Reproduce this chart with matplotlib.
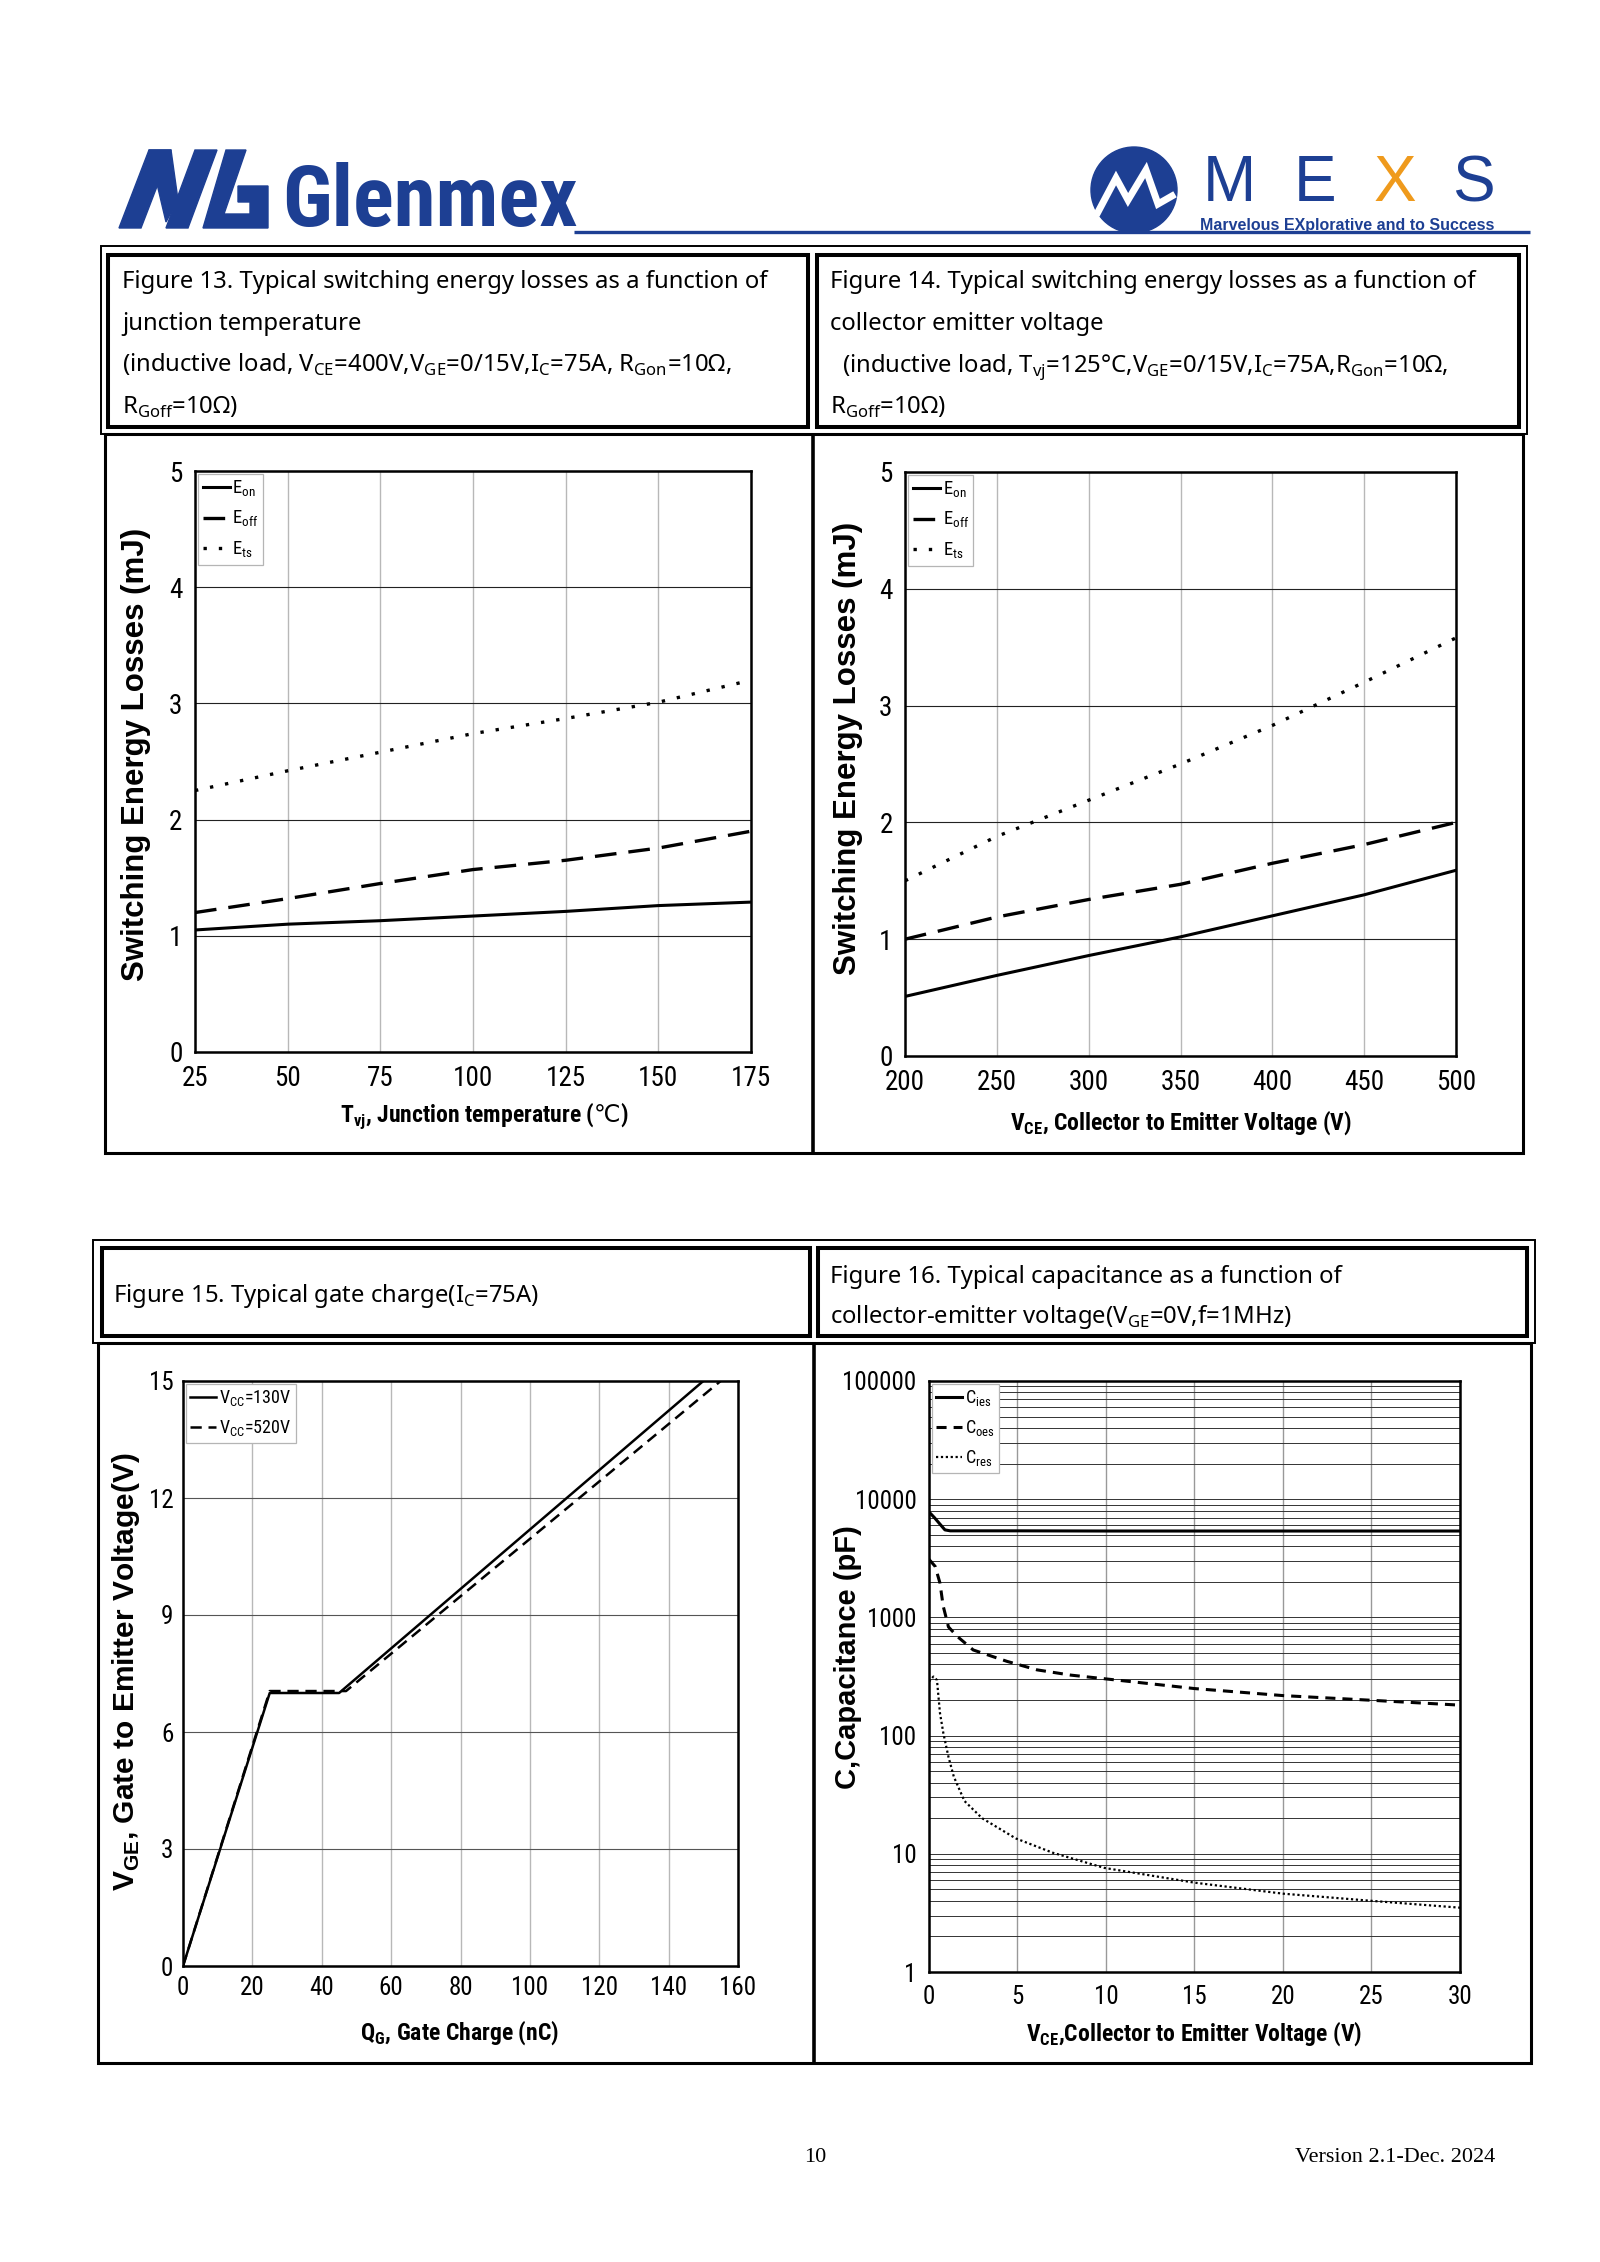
import matplotlib
matplotlib.use('Agg')
import matplotlib.pyplot as plt
from matplotlib import font_manager
from matplotlib.patches import Rectangle, Polygon, Circle
from matplotlib.ticker import FixedLocator, NullFormatter

# ---------------- data ----------------
t_vj = [25, 50, 75, 100, 125, 150, 175]
eon_t = [1.05, 1.10, 1.13, 1.17, 1.21, 1.26, 1.29]
eoff_t = [1.20, 1.32, 1.45, 1.57, 1.65, 1.755, 1.90]
ets_t = [2.25, 2.42, 2.58, 2.74, 2.87, 3.01, 3.20]

vce_e = [200, 250, 300, 350, 400, 450, 500]
eon_v = [0.51, 0.69, 0.86, 1.02, 1.20, 1.38, 1.59]
eoff_v = [1.00, 1.19, 1.34, 1.47, 1.65, 1.81, 2.00]
ets_v = [1.50, 1.88, 2.19, 2.50, 2.83, 3.20, 3.58]

qg_130 = [0, 25, 45, 150]
vge_130 = [0, 7.0, 7.0, 15]
qg_520 = [0, 25, 47, 155]
vge_520 = [0, 7.05, 7.05, 15]

cies_vce = [0, 0.3, 0.6, 0.9, 1.2, 5, 10, 20, 30]
cies = [7800, 7000, 6200, 5500, 5400, 5400, 5380, 5380, 5380]
coes_vce = [0, 0.35, 0.62, 0.8, 1.1, 1.6, 2.5, 4.4, 6.1, 8, 10.6, 15, 20, 25, 30]
coes = [3100, 2700, 1950, 1250, 830, 690, 530, 425, 360, 325, 295, 250, 218, 199, 181]
cres_vce = [0, 0.25, 0.45, 0.62, 0.81, 1.1, 1.4, 2.0, 3.0, 4.9, 7, 9.9, 15, 20, 25, 30]
cres = [286, 316, 295, 155, 105, 66, 45, 28, 20, 13.5, 10.2, 7.6, 5.7, 4.6, 4.0, 3.5]

t_ticks = [25, 50, 75, 100, 125, 150, 175]
e_ticks = [0, 1, 2, 3, 4, 5]
v_ticks = [200, 250, 300, 350, 400, 450, 500]
q_ticks = [0, 20, 40, 60, 80, 100, 120, 140, 160]
g_ticks = [0, 3, 6, 9, 12, 15]
c_xticks = [0, 5, 10, 15, 20, 25, 30]
c_yticks = [1, 10, 100, 1000, 10000, 100000]
c_ylabels = ['1', '10', '100', '1000', '10000', '100000']

# ---------------- fonts ----------------
names = {f.name for f in font_manager.fontManager.ttflist}
NARROW = 'Liberation Sans'
for cand in ('Liberation Sans Narrow', 'Roboto Condensed', 'Archivo Narrow',
             'Open Sans Condensed', 'Noto Sans Condensed'):
    if cand in names:
        NARROW = cand
        break

plt.rcParams['font.family'] = [NARROW, 'DejaVu Sans']
HEAD = ['Noto Sans', 'DejaVu Sans']
LAB = ['Liberation Sans', 'DejaVu Sans']
NAVY = '#1d3f93'

W, H = 1600, 2262
fig = plt.figure(figsize=(16, 22.62), dpi=100)

ov = fig.add_axes([0, 0, 1, 1])
ov.set_xlim(0, W)
ov.set_ylim(H, 0)
ov.axis('off')


def ax_px(l, t, r, b):
    return fig.add_axes([l / W, 1 - b / H, (r - l) / W, (b - t) / H])


def rect(x0, y0, x1, y1, lw):
    ov.add_patch(Rectangle((x0, y0), x1 - x0, y1 - y0, fill=False,
                           edgecolor='black', lw=lw))


def vline(x, y0, y1, lw):
    ov.plot([x, x], [y0, y1], color='black', lw=lw, solid_capstyle='butt')


# ---------------- header / logos ----------------
ov.text(282, 226, 'Glenmex', fontsize=61, fontweight='bold', color=NAVY,
        family=[NARROW, 'DejaVu Sans'], va='baseline', ha='left')
for poly in ([(119, 228), (141, 228), (171, 150), (149, 150)],
             [(149, 150), (171, 150), (178, 200), (166, 222)],
             [(166, 228), (188, 228), (217, 150), (195, 150)],
             [(203, 228), (268, 228), (268, 186), (238, 186), (238, 202),
              (250, 202), (250, 214), (224, 214), (246, 150), (226, 150)]):
    ov.add_patch(Polygon(poly, closed=True, color=NAVY))
ov.plot([574, 1530], [232, 232], color=NAVY, lw=2.4, solid_capstyle='butt')
ov.add_patch(Circle((1134, 190), 43, color=NAVY))
ov.plot([1098, 1116, 1128, 1146, 1158, 1172], [212, 178, 200, 170, 204, 196],
        color='white', lw=5, solid_joinstyle='miter')
for ch, x, c in (('M', 1203, NAVY), ('E', 1294, NAVY), ('X', 1374, '#ef9a1c'),
                 ('S', 1452, NAVY)):
    ov.text(x, 201, ch, fontsize=46, color=c, family=LAB, va='baseline', ha='left')
ov.text(1200, 230, 'Marvelous EXplorative and to Success', fontsize=11.5,
        fontweight='bold', color=NAVY, family=LAB, va='baseline', ha='left')

# ---------------- tables ----------------
rect(101, 246, 1527, 434, 1.4)
rect(108, 255, 808, 427, 2.9)
rect(817, 255, 1519, 427, 2.9)
rect(105, 434, 1523, 1153, 2.2)
vline(813, 434, 1153, 2.6)
rect(93, 1240, 1535, 1343, 1.4)
rect(102, 1248, 810, 1336, 2.9)
rect(818, 1248, 1527, 1336, 2.9)
rect(98, 1343, 1531, 2063, 2.2)
vline(814, 1343, 2063, 2.6)

HFS = 17.2
s = r'$_\mathdefault{%s}$'
h13 = ['Figure 13. Typical switching energy losses as a function of',
       'junction temperature',
       '(inductive load, V' + s % 'CE' + '=400V,V' + s % 'GE' + '=0/15V,I' + s % 'C'
       + '=75A, R' + s % 'Gon' + '=10Ω,',
       'R' + s % 'Goff' + '=10Ω)']
h14 = ['Figure 14. Typical switching energy losses as a function of',
       'collector emitter voltage',
       '(inductive load, T' + s % 'vj' + '=125°C,V' + s % 'GE' + '=0/15V,I' + s % 'C'
       + '=75A,R' + s % 'Gon' + '=10Ω,',
       'R' + s % 'Goff' + '=10Ω)']
ys = [288, 330, 372, 414]
for i, (a, b) in enumerate(zip(h13, h14)):
    ov.text(122, ys[i], a, fontsize=HFS, family=HEAD, va='baseline', ha='left')
    ov.text(830 if i != 2 else 842, ys[i], b, fontsize=HFS, family=HEAD,
            va='baseline', ha='left')
ov.text(113, 1302, 'Figure 15. Typical gate charge(I' + s % 'C' + '=75A)',
        fontsize=HFS, family=HEAD, va='baseline', ha='left')
ov.text(830, 1283, 'Figure 16. Typical capacitance as a function of',
        fontsize=HFS, family=HEAD, va='baseline', ha='left')
ov.text(830, 1323, 'collector-emitter voltage(V' + s % 'GE' + '=0V,f=1MHz)',
        fontsize=HFS, family=HEAD, va='baseline', ha='left')

ov.text(815, 2162, '10', fontsize=16, family=['Liberation Serif'], ha='center',
        va='baseline')
ov.text(1495, 2162, 'Version 2.1-Dec. 2024', fontsize=16, family=['Liberation Serif'],
        ha='right', va='baseline')


# ---------------- plot helpers ----------------
def style(ax, tsize, pad=9):
    for sp in ax.spines.values():
        sp.set_linewidth(1.8)
    ax.tick_params(which='both', length=0, labelsize=tsize, pad=pad)
    ax.set_axisbelow(True)


def legend(ax, fs=13.5, **kw):
    lg = ax.legend(loc='upper left', fontsize=fs, frameon=True, fancybox=False,
                   framealpha=1, edgecolor='#b5b5b5', borderaxespad=0.15,
                   handlelength=1.45, handletextpad=0.15, borderpad=0.25,
                   labelspacing=0.55, **kw)
    lg.get_frame().set_linewidth(0.9)
    return lg


LFS = 19.5
XFS = 17
deg = r'$\mathrm{℃}$'
# Figure 13
ax1 = ax_px(195, 471, 751, 1052)
ax1.plot(t_vj, eon_t, color='k', lw=2.2, label='E' + s % 'on')
ax1.plot(t_vj, eoff_t, color='k', lw=2.4, ls=(0, (6.5, 3.6)), label='E' + s % 'off')
ax1.plot(t_vj, ets_t, color='k', lw=2.4, ls=(0, (1, 3.6)), label='E' + s % 'ts')
ax1.set_xlim(25, 175)
ax1.set_ylim(0, 5)
ax1.set_xticks(t_ticks)
ax1.set_yticks(e_ticks)
ax1.yaxis.grid(True, color='#222222', lw=0.8)
ax1.xaxis.grid(True, color='#b8b8b8', lw=1.0)
style(ax1, LFS)
legend(ax1)
ov.text(484, 1122, 'T' + s % 'vj' + ', Junction temperature (' + deg + ')',
        fontsize=XFS, fontweight='bold', ha='center', va='baseline')
ov.text(136, 754, 'Switching Energy Losses (mJ)', fontsize=22.5, fontweight='bold',
        family=LAB, rotation=90, ha='center', va='center')

# Figure 14
ax2 = ax_px(905, 472, 1456, 1056)
ax2.plot(vce_e, eon_v, color='k', lw=2.2, label='E' + s % 'on')
ax2.plot(vce_e, eoff_v, color='k', lw=2.4, ls=(0, (6.5, 3.6)), label='E' + s % 'off')
ax2.plot(vce_e, ets_v, color='k', lw=2.4, ls=(0, (1, 3.6)), label='E' + s % 'ts')
ax2.set_xlim(200, 500)
ax2.set_ylim(0, 5)
ax2.set_xticks(v_ticks)
ax2.set_yticks(e_ticks)
ax2.yaxis.grid(True, color='#222222', lw=0.8)
ax2.xaxis.grid(True, color='#b8b8b8', lw=1.0)
style(ax2, LFS)
legend(ax2)
ov.text(1181, 1130, 'V' + s % 'CE' + ', Collector to Emitter Voltage (V)',
        fontsize=XFS, fontweight='bold', ha='center', va='baseline')
ov.text(848, 748, 'Switching Energy Losses (mJ)', fontsize=22.5, fontweight='bold',
        family=LAB, rotation=90, ha='center', va='center')

# Figure 15
ax3 = ax_px(183, 1381, 738, 1966)
ax3.plot(qg_130, vge_130, color='k', lw=1.8, label='V' + s % 'CC' + '=130V')
ax3.plot(qg_520, vge_520, color='k', lw=1.8, ls=(0, (4.5, 2.7)),
         label='V' + s % 'CC' + '=520V')
ax3.set_xlim(0, 160)
ax3.set_ylim(0, 15)
ax3.set_xticks(q_ticks)
ax3.set_yticks(g_ticks)
ax3.yaxis.grid(True, color='#555555', lw=0.8)
ax3.xaxis.grid(True, color='#b8b8b8', lw=1.0)
style(ax3, 18, pad=7)
legend(ax3, fs=13)
ov.text(459, 2040, 'Q' + s % 'G' + ', Gate Charge (nC)', fontsize=XFS,
        fontweight='bold', ha='center', va='baseline')
ov.text(126, 1672, 'V' + s % 'GE' + ', Gate to Emitter Voltage(V)', fontsize=21.5,
        fontweight='bold', family=LAB, rotation=90, ha='center', va='center')

# Figure 16
ax4 = ax_px(929, 1381, 1460, 1972)
ax4.plot(cies_vce, cies, color='k', lw=2.2, label='C' + s % 'ies')
ax4.plot(coes_vce, coes, color='k', lw=2.2, ls=(0, (3.3, 2.3)), label='C' + s % 'oes')
ax4.plot(cres_vce, cres, color='k', lw=1.6, ls=(0, (1, 1.2)), label='C' + s % 'res')
ax4.set_yscale('log')
ax4.set_xlim(0, 30)
ax4.set_ylim(1, 100000)
ax4.set_xticks(c_xticks)
ax4.yaxis.set_major_locator(FixedLocator(c_yticks))
ax4.set_yticklabels(c_ylabels)
minors = [m * 10 ** d for d in range(0, 5) for m in range(2, 10)]
ax4.yaxis.set_minor_locator(FixedLocator(minors))
ax4.yaxis.set_minor_formatter(NullFormatter())
ax4.yaxis.grid(True, which='both', color='#333333', lw=0.7)
ax4.xaxis.grid(True, color='#999999', lw=1.0)
style(ax4, 18)
legend(ax4, fs=13)
ov.text(1194, 2041, 'V' + s % 'CE' + ',Collector to Emitter Voltage (V)', fontsize=XFS,
        fontweight='bold', ha='center', va='baseline')
ov.text(848, 1657, 'C,Capacitance (pF)', fontsize=21, fontweight='bold',
        family=LAB, rotation=90, ha='center', va='center')

fig.savefig('out.png', dpi=100, facecolor='white')
